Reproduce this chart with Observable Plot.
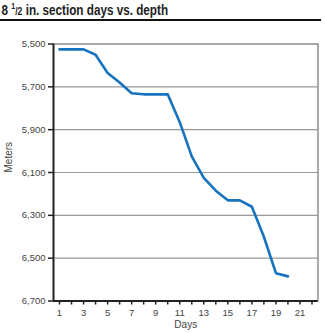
<!DOCTYPE html>
<html><head><meta charset="utf-8">
<script src="https://cdn.jsdelivr.net/npm/d3@7"></script>
<script src="https://cdn.jsdelivr.net/npm/@observablehq/plot@0.6"></script>
<style>
body{margin:0;background:#fff;width:325px;height:333px;overflow:hidden;font-family:"Liberation Sans",Arial,sans-serif;}
#title{height:19px;border-bottom:2.5px solid #111;width:321px;box-sizing:content-box;white-space:nowrap;overflow:visible}
#title span.t{display:inline-block;transform:scaleX(0.78);transform-origin:0 0;font-family:"Liberation Sans",Arial,sans-serif;font-weight:bold;font-size:15px;color:#222;padding-left:2px;line-height:19px}
#title sup{font-size:9px;vertical-align:6px;line-height:0}
#title .den{font-size:11px}
</style></head><body>
<div id="title"><span class="t">8 <sup>1</sup><span class="den">/2</span> in. section days vs. depth</span></div>
<div id="chart"></div>
<script>
const days = [1,2,3,4,5,6,7,8,9,10,11,12,13,14,15,16,17,18,19,20];
const depths = [5525,5525,5525,5550,5635,5680,5730,5735,5735,5735,5865,6025,6125,6185,6230,6230,6260,6400,6570,6585];
const yTicks = [5500,5700,5900,6100,6300,6500,6700];
const xTicks = d3.range(1,23);
const xLabels = [1,3,5,7,9,11,13,15,17,19,21];
const data = days.map((d,i)=>({day:d, depth:depths[i]}));

const chart = Plot.plot({
  width:325, height:311.5,
  marginTop:22.5, marginBottom:32, marginLeft:53, marginRight:7.5,
  style:{fontFamily:"'Liberation Sans', Arial, sans-serif", fontSize:"9.5px", color:"#444", background:"#fff"},
  x:{domain:[0.5,22.5]},
  y:{domain:[5500,6700], reverse:true},
  marks:[
    Plot.gridY(yTicks.slice(1,-1), {stroke:"#999", strokeOpacity:1, strokeWidth:1.2}),
    Plot.frame({stroke:"#555", strokeWidth:1}),
    Plot.axisY(yTicks, {tickFormat:d3.format(","), tickSize:5, tickPadding:3, stroke:"#222", strokeWidth:1.5, fill:"#444", label:null}),
    Plot.axisX(xTicks, {tickSize:4, tickPadding:4, stroke:"#222", strokeWidth:1.5, fill:"#444", label:null, tickFormat:d=>xLabels.includes(d)?String(d):""}),
    Plot.ruleX([0.5], {stroke:"#222", strokeWidth:2}),
    Plot.ruleY([6700], {stroke:"#222", strokeWidth:2}),
    Plot.line(data, {x:"day", y:"depth", stroke:"#1673c0", strokeWidth:2.6, strokeLinejoin:"round"}),
    Plot.text(["Days"], {frameAnchor:"bottom", dy:27, fill:"#444", fontSize:10}),
    Plot.text(["Meters"], {frameAnchor:"left", dx:-45, rotate:-90, fill:"#444", fontSize:10})
  ]
});
document.getElementById("chart").append(chart);
</script>
</body></html>
